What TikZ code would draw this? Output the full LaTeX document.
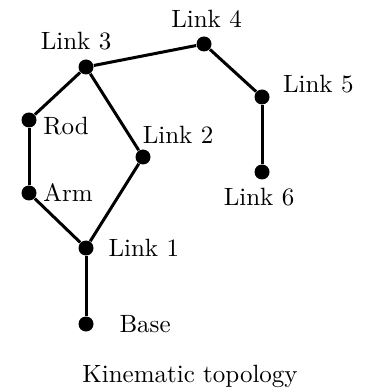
\documentclass[tikz,border=0pt]{standalone}
\usepackage{tikz}
\usetikzlibrary{positioning}

\begin{document}
\begin{tikzpicture}[
  x=0.4pt, y=-0.4pt,
  joint/.style={circle, fill=black, inner sep=0pt, minimum size=6pt},
  lbl/.style={inner sep=1pt},
  link/.style={line width=1.2pt},
]
\useasboundingbox (0,0) rectangle (365,392);

% joints
\node[joint] (base) at (86,324) {};
\node[joint] (l1) at (86,248) {};
\node[joint] (arm) at (29,193) {};
\node[joint] (rod) at (29,120) {};
\node[joint] (l3) at (86,67) {};
\node[joint] (l2) at (143,157) {};
\node[joint] (l4) at (204,44) {};
\node[joint] (l5) at (262,97) {};
\node[joint] (l6) at (262,172) {};

\draw[link] (base) -- (l1);
\draw[link] (l1) -- (arm);
\draw[link] (arm) -- (rod);
\draw[link] (rod) -- (l3);
\draw[link] (l1) -- (l2);
\draw[link] (l2) -- (l3);
\draw[link] (l3) -- (l4);
\draw[link] (l4) -- (l5);
\draw[link] (l5) -- (l6);

% labels
\node[lbl, right=9pt of base] (baselbl) {Base};
\node[lbl, right=4.6pt of l1] (l1lbl) {Link 1};
\node[lbl, right=1.3pt of arm] (armlbl) {Arm};
\node[lbl, right=1.3pt of rod, yshift=-2.4pt] (rodlbl) {Rod};
\node[lbl, above=0.8pt of l2, xshift=14pt] (l2lbl) {Link 2};
\node[lbl, above=2.4pt of l3, xshift=-4pt] (l3lbl) {Link 3};
\node[lbl, above=2pt of l4, xshift=1pt] (l4lbl) {Link 4};
\node[lbl, right=4pt of l5, yshift=5.2pt] (l5lbl) {Link 5};
\node[lbl, below=2pt of l6, xshift=-1.2pt] (l6lbl) {Link 6};

\node[lbl] (caption) at (190,376) {Kinematic topology};
\end{tikzpicture}
\end{document}
